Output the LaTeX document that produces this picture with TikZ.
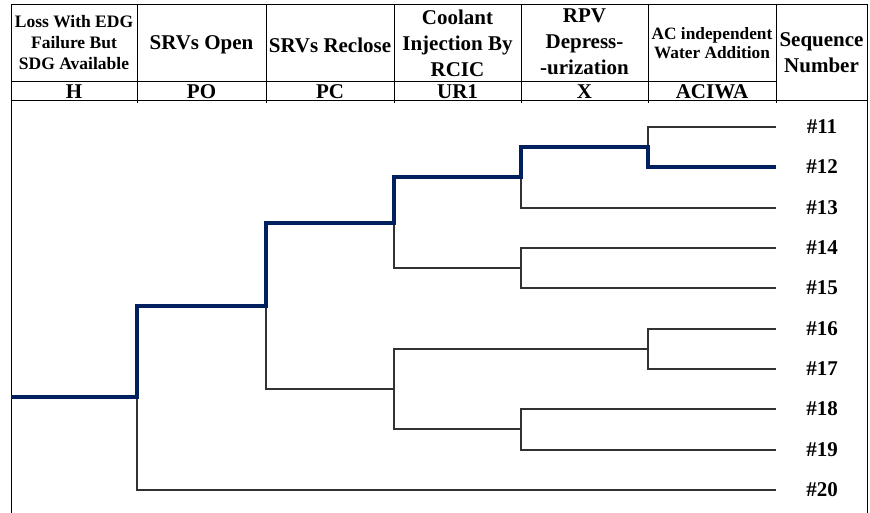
\documentclass[tikz,border=0pt]{standalone}
\usepackage{fontspec}
\setmainfont{Liberation Serif}
\definecolor{navy}{RGB}{0,32,96}
\definecolor{linegray}{RGB}{50,50,50}
\begin{document}
\begin{tikzpicture}[x=1pt,y=-1pt,
  frame/.style={draw=black,line width=1pt},
  branch/.style={draw=linegray,line width=1.1pt},
  hilite/.style={draw=navy,line width=3.6pt,line join=miter},
  hdr/.style={font=\bfseries\fontsize{21}{26}\selectfont,align=center,inner sep=0pt},
  hdrsmall/.style={font=\bfseries\fontsize{17.5}{21}\selectfont,align=center,inner sep=0pt},
  hdrac/.style={font=\bfseries\fontsize{17.3}{19}\selectfont,align=center,inner sep=0pt},
  code/.style={font=\bfseries\fontsize{21}{24}\selectfont,inner sep=0pt},
  seq/.style={font=\bfseries\fontsize{21}{24}\selectfont,inner sep=0pt}]
\useasboundingbox (0,0) rectangle (870,513);
% ---- frame ----
\draw[frame] (11,513) -- (11,5) -- (867,5) -- (867,513);
\draw[frame] (11,82) -- (776,82);
\draw[frame] (11,101) -- (867,101);
\foreach \x in {137,266,394,521,648,776} \draw[frame] (\x,5) -- (\x,103);
% ---- header texts ----
\node[hdrsmall] (tH) at (74,43) {Loss With EDG\\Failure But\\SDG Available};
\node[hdr] (tPO) at (201.5,45) {SRVs Open};
\node[hdr] (tPC) at (330,45) {SRVs Reclose};
\node[hdr] (tUR) at (457.5,43) {Coolant\\Injection By\\RCIC};
\node[hdr] (tX) at (584.5,42) {RPV\\Depress-\\-urization};
\node[hdrac] (tAC) at (712,43) {AC independent\\Water Addition};
\node[hdr] (tSeq) at (821.5,53) {Sequence\\Number};
\node[code] (cH) at (74,92) {H};
\node[code] (cPO) at (201.5,92) {PO};
\node[code] (cPC) at (330,92) {PC};
\node[code] (cUR) at (457.5,92) {UR1};
\node[code] (cX) at (584.5,92) {X};
\node[code] (cAC) at (712,92) {ACIWA};
% ---- tree coordinates ----
\coordinate (init) at (11,397);
\coordinate (bH) at (137,397);
\coordinate (bPO) at (266,306);
\coordinate (bPC1) at (394,223);
\coordinate (bPC2) at (394,389);
\coordinate (bUR1a) at (521,177);
\coordinate (bUR1b) at (521,268);
\coordinate (bACa) at (648,349);
\coordinate (bXc) at (521,429);
\coordinate (bACb) at (648,147);
\foreach \n/\y in {11/127,12/167,13/208,14/248,15/288,16/329,17/369,18/409,19/450,20/490}{
  \coordinate (e\n) at (776,\y);
  \node[seq] (s\n) at (822,\y) {\#\n};
}
% ---- thin branches ----
\draw[branch] (init) -- (bH);
\draw[branch] (bH) |- (bPO);
\draw[branch] (bH) |- (e20);
\draw[branch] (bPO) |- (bPC1);
\draw[branch] (bPO) |- (bPC2);
\draw[branch] (bPC1) |- (bUR1a);
\draw[branch] (bPC1) |- (bUR1b);
\draw[branch] (bPC2) |- (bACa);
\draw[branch] (bPC2) |- (bXc);
\draw[branch] (bUR1a) |- (bACb);
\draw[branch] (bUR1a) |- (e13);
\draw[branch] (bUR1b) |- (e14);
\draw[branch] (bUR1b) |- (e15);
\draw[branch] (bACb) |- (e11);
\draw[branch] (bACb) |- (e12);
\draw[branch] (bACa) |- (e16);
\draw[branch] (bACa) |- (e17);
\draw[branch] (bXc) |- (e18);
\draw[branch] (bXc) |- (e19);
% ---- highlighted sequence ----
\draw[hilite] (init) -- (bH) |- (bPO) |- (bPC1) |- (bUR1a) |- (bACb) |- (e12);
\end{tikzpicture}
\end{document}
